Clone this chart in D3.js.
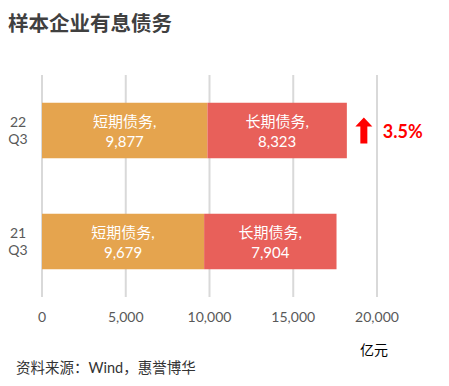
<!DOCTYPE html>
<html>
<head>
<meta charset="utf-8">
<script src="https://cdn.jsdelivr.net/npm/d3@7"></script>
<style>
  body { margin: 0; background: #fff; }
  svg { font-family: Lato, "Noto Sans CJK SC", sans-serif; }
</style>
</head>
<body>
<svg id="chart" width="449" height="386"></svg>
<script>
  // data
  var periods = ["22Q3", "21Q3"];
  var periodLines = [["22", "Q3"], ["21", "Q3"]];
  var shortDebt = [9877, 9679];
  var longDebt = [8323, 7904];
  var seriesNames = ["短期债务", "长期债务"];
  var xTicks = [0, 5000, 10000, 15000, 20000];
  var growthLabel = "3.5%";

  var colors = ["#E5A44E", "#E8605A"];
  var svg = d3.select("#chart");

  var x = d3.scaleLinear().domain([0, 20000]).range([42, 377]);
  var y = d3.scaleBand().domain(periods).range([75, 297]).paddingInner(0.5).paddingOuter(0.25);

  // title
  svg.append("text").attr("x", 8).attr("y", 31)
    .attr("font-size", 20.5).attr("font-weight", "bold").attr("fill", "#404040")
    .text("样本企业有息债务");

  // grid
  svg.append("g").selectAll("line").data(xTicks).enter().append("line")
    .attr("x1", function(d){return x(d);}).attr("x2", function(d){return x(d);})
    .attr("y1", 75).attr("y2", 297)
    .attr("stroke", "#d9d9d9").attr("stroke-width", 2);

  // tick labels
  svg.append("g").selectAll("text").data(xTicks).enter().append("text")
    .attr("x", function(d){return x(d);}).attr("y", 322)
    .attr("text-anchor", "middle").attr("font-size", 14).attr("fill", "#595959")
    .text(function(d){return d3.format(",")(d);});

  svg.append("text").attr("x", 374).attr("y", 355)
    .attr("text-anchor", "middle").attr("font-size", 14).attr("fill", "#000")
    .text("亿元");

  var rows = periods.map(function(p, i) {
    return {p: p, lines: periodLines[i], vals: [shortDebt[i], longDebt[i]]};
  });

  var bw = y.bandwidth();
  var g = svg.append("g").selectAll("g").data(rows).enter().append("g");

  g.each(function(r) {
    var sel = d3.select(this);
    var y0 = y(r.p);
    var start = 0;
    r.vals.forEach(function(v, k) {
      sel.append("rect")
        .attr("x", x(start)).attr("y", y0)
        .attr("width", x(start + v) - x(start)).attr("height", bw)
        .attr("fill", colors[k]);
      var cx = (x(start) + x(start + v)) / 2;
      sel.append("text").attr("x", cx).attr("y", y0 + bw / 2 - 4)
        .attr("text-anchor", "middle").attr("font-size", 15).attr("fill", "#fff")
        .text(seriesNames[k] + ",");
      sel.append("text").attr("x", cx).attr("y", y0 + bw / 2 + 16)
        .attr("text-anchor", "middle").attr("font-size", 15).attr("fill", "#fff")
        .text(d3.format(",")(v));
      start += v;
    });
    // category label
    sel.append("text").attr("x", 18).attr("y", y0 + bw / 2 - 4)
      .attr("text-anchor", "middle").attr("font-size", 14).attr("fill", "#595959")
      .text(r.lines[0]);
    sel.append("text").attr("x", 18).attr("y", y0 + bw / 2 + 13)
      .attr("text-anchor", "middle").attr("font-size", 14).attr("fill", "#595959")
      .text(r.lines[1]);
  });

  // growth annotation on latest period
  var total0 = shortDebt[0] + longDebt[0];
  var ax = x(total0) + 17, ay = y(periods[0]) + bw / 2;
  svg.append("path")
    .attr("d", "M" + ax + "," + (ay - 13) + " L" + (ax + 8.5) + "," + (ay - 4) +
      " L" + (ax + 3.5) + "," + (ay - 4) + " L" + (ax + 3.5) + "," + (ay + 13) +
      " L" + (ax - 3.5) + "," + (ay + 13) + " L" + (ax - 3.5) + "," + (ay - 4) +
      " L" + (ax - 8.5) + "," + (ay - 4) + "Z")
    .attr("fill", "#FF0000");
  svg.append("text").attr("x", ax + 19).attr("y", ay + 7)
    .attr("font-size", 18).attr("font-weight", "bold").attr("fill", "#FF0000")
    .text(growthLabel);

  // source
  svg.append("text").attr("x", 16).attr("y", 373)
    .attr("font-size", 14.5).attr("fill", "#333")
    .text("资料来源：Wind，惠誉博华");
</script>
</body>
</html>
